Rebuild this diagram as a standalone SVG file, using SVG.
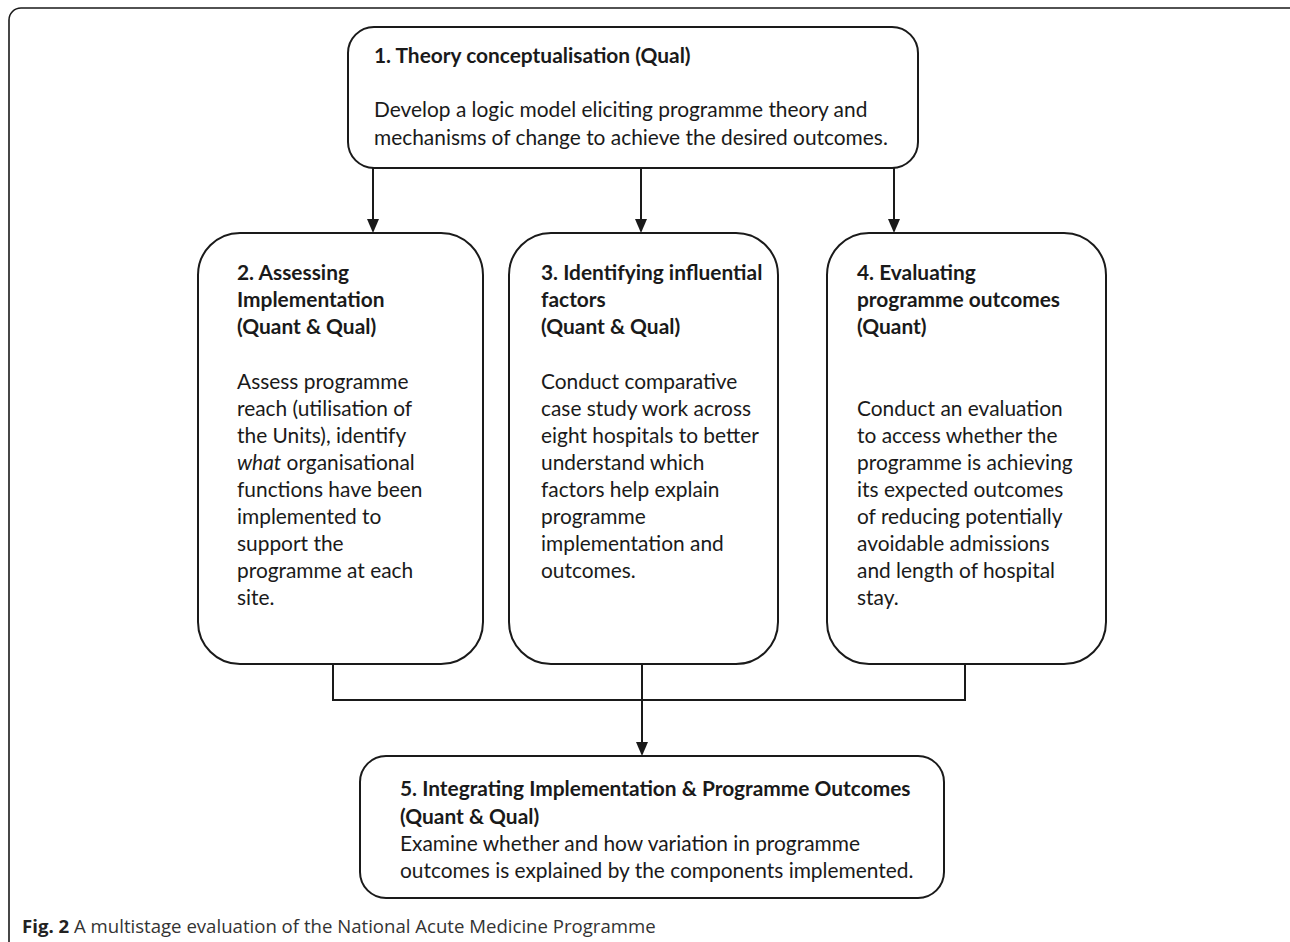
<svg xmlns="http://www.w3.org/2000/svg" width="1290" height="942" viewBox="0 0 1290 942">
<style>
.box{fill:#fff;stroke:#1a1a1a;stroke-width:2}
.t{font-family:Lato,"Open Sans",sans-serif;font-size:20.9px;fill:#1a1a1a}
.b{font-weight:bold}
.cn{fill:none;stroke:#1a1a1a;stroke-width:2}
.ah{fill:#1a1a1a}
.cap{font-family:"Open Sans","Noto Sans",sans-serif;font-size:18.6px;fill:#333}
</style>
<rect x="9" y="8" width="1300" height="960" rx="12" fill="none" stroke="#1a1a1a" stroke-width="1.6"/>
<g id="connectors">
<line class="cn" x1="373" y1="168" x2="373" y2="222"/>
<path class="ah" d="M367,219 L379,219 L373,233 Z"/>
<line class="cn" x1="641" y1="168" x2="641" y2="222"/>
<path class="ah" d="M635,219 L647,219 L641,233 Z"/>
<line class="cn" x1="894" y1="168" x2="894" y2="222"/>
<path class="ah" d="M888,219 L900,219 L894,233 Z"/>
<polyline class="cn" points="333,664 333,700 965,700 965,664"/>
<line class="cn" x1="642" y1="664" x2="642" y2="745"/>
<path class="ah" d="M636,742 L648,742 L642,756 Z"/>
</g>
<g id="node1">
<rect class="box" x="348" y="27" width="570" height="141" rx="26"/>
<text class="t b" x="374" y="63">1. Theory conceptualisation (Qual)</text>
<text class="t" x="374" y="117">Develop a logic model eliciting programme theory and</text>
<text class="t" x="374" y="145">mechanisms of change to achieve the desired outcomes.</text>
</g>
<g id="node2">
<rect class="box" x="198" y="233" width="285" height="431" rx="42"/>
<text class="t b" x="237" y="280">2. Assessing</text>
<text class="t b" x="237" y="307">Implementation</text>
<text class="t b" x="237" y="334">(Quant &amp; Qual)</text>
<text class="t" x="237" y="389">Assess programme</text>
<text class="t" x="237" y="416">reach (utilisation of</text>
<text class="t" x="237" y="443">the Units), identify</text>
<text class="t" x="237" y="470"><tspan font-style="italic">what</tspan> organisational</text>
<text class="t" x="237" y="497">functions have been</text>
<text class="t" x="237" y="524">implemented to</text>
<text class="t" x="237" y="551">support the</text>
<text class="t" x="237" y="578">programme at each</text>
<text class="t" x="237" y="605">site.</text>
</g>
<g id="node3">
<rect class="box" x="509" y="233" width="269" height="431" rx="42"/>
<text class="t b" x="541" y="280">3. Identifying influential</text>
<text class="t b" x="541" y="307">factors</text>
<text class="t b" x="541" y="334">(Quant &amp; Qual)</text>
<text class="t" x="541" y="389">Conduct comparative</text>
<text class="t" x="541" y="416">case study work across</text>
<text class="t" x="541" y="443">eight hospitals to better</text>
<text class="t" x="541" y="470">understand which</text>
<text class="t" x="541" y="497">factors help explain</text>
<text class="t" x="541" y="524">programme</text>
<text class="t" x="541" y="551">implementation and</text>
<text class="t" x="541" y="578">outcomes.</text>
</g>
<g id="node4">
<rect class="box" x="827" y="233" width="279" height="431" rx="42"/>
<text class="t b" x="857" y="280">4. Evaluating</text>
<text class="t b" x="857" y="307">programme outcomes</text>
<text class="t b" x="857" y="334">(Quant)</text>
<text class="t" x="857" y="416">Conduct an evaluation</text>
<text class="t" x="857" y="443">to access whether the</text>
<text class="t" x="857" y="470">programme is achieving</text>
<text class="t" x="857" y="497">its expected outcomes</text>
<text class="t" x="857" y="524">of reducing potentially</text>
<text class="t" x="857" y="551">avoidable admissions</text>
<text class="t" x="857" y="578">and length of hospital</text>
<text class="t" x="857" y="605">stay.</text>
</g>
<g id="node5">
<rect class="box" x="360" y="756" width="584" height="142" rx="26"/>
<text class="t b" x="400" y="796">5. Integrating Implementation &amp; Programme Outcomes</text>
<text class="t b" x="400" y="824">(Quant &amp; Qual)</text>
<text class="t" x="400" y="851">Examine whether and how variation in programme</text>
<text class="t" x="400" y="878">outcomes is explained by the components implemented.</text>
</g>
<text class="cap" x="22" y="933"><tspan font-weight="bold" fill="#222">Fig. 2</tspan> A multistage evaluation of the National Acute Medicine Programme</text>
</svg>
